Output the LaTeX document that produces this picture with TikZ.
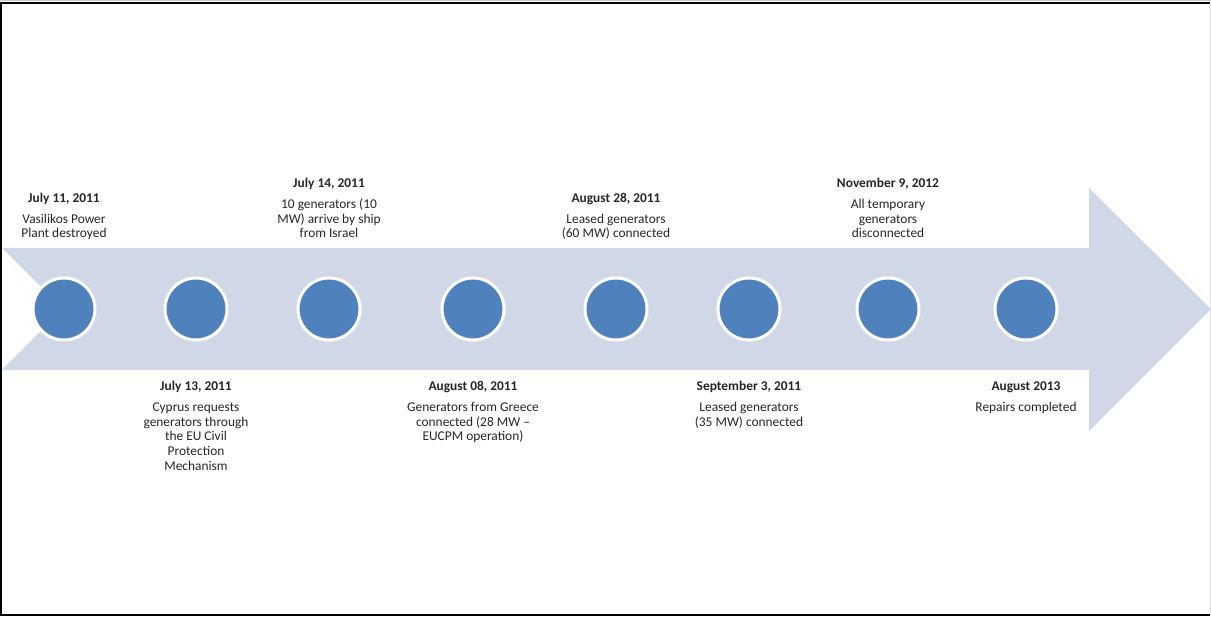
\documentclass[tikz,border=0pt]{standalone}
\usepackage{fontspec}
\setmainfont{Carlito}
\usetikzlibrary{positioning}
\definecolor{bande}{RGB}{208,216,232}
\definecolor{bleu}{RGB}{79,129,189}
\tikzset{
  pastille/.style={circle, fill=bleu, draw=white, line width=3pt, minimum size=62pt, inner sep=0pt},
  etiquette/.style={align=center, inner sep=0pt, text=black!85, font=\fontsize{13.4}{14.7}\selectfont},
}
\newcommand{\evt}[2]{\strut\textbf{#1}\\[6.3pt]#2\strut}
\begin{document}
\begin{tikzpicture}[x=1pt, y=-1pt]
	\useasboundingbox (0,0) rectangle (1211,617);
	% le cadre
	\draw[black!20] (0,0.5) -- (1211,0.5);
	\draw[line width=2pt] (1210,3) -- (1,3) -- (1,615) -- (1210,615);
	\draw[black!12] (1210,3) -- (1210,615);
	% la fleche
	\fill[bande] (2,248) -- (1089,248) -- (1089,188) -- (1211,309) -- (1089,431) -- (1089,370) -- (2,370) -- (63,309) -- cycle;
	% les pastilles
	\foreach \n/\x in {1/64,2/196,3/329,4/473,5/616,6/749,7/888,8/1026}
		\node[pastille] (c\n) at (\x,309) {};
	% les etiquettes du haut
	\node[etiquette, above=34pt of c1] (e1) {\evt{July 11, 2011}{Vasilikos Power\\Plant destroyed}};
	\node[etiquette, above=34pt of c3] (e3) {\evt{July 14, 2011}{10 generators (10\\MW) arrive by ship\\from Israel}};
	\node[etiquette, above=34pt of c5] (e5) {\evt{August 28, 2011}{Leased generators\\(60 MW) connected}};
	\node[etiquette, above=34pt of c7] (e7) {\evt{November 9, 2012}{All temporary\\generators\\disconnected}};
	% les etiquettes du bas
	\node[etiquette, below=38.5pt of c2] (e2) {\evt{July 13, 2011}{Cyprus requests\\generators through\\the EU Civil\\Protection\\Mechanism}};
	\node[etiquette, below=38.5pt of c4] (e4) {\evt{August 08, 2011}{Generators from Greece\\connected (28 MW --\\EUCPM operation)}};
	\node[etiquette, below=38.5pt of c6] (e6) {\evt{September 3, 2011}{Leased generators\\(35 MW) connected}};
	\node[etiquette, below=38.5pt of c8] (e8) {\evt{August 2013}{Repairs completed}};
\end{tikzpicture}
\end{document}
